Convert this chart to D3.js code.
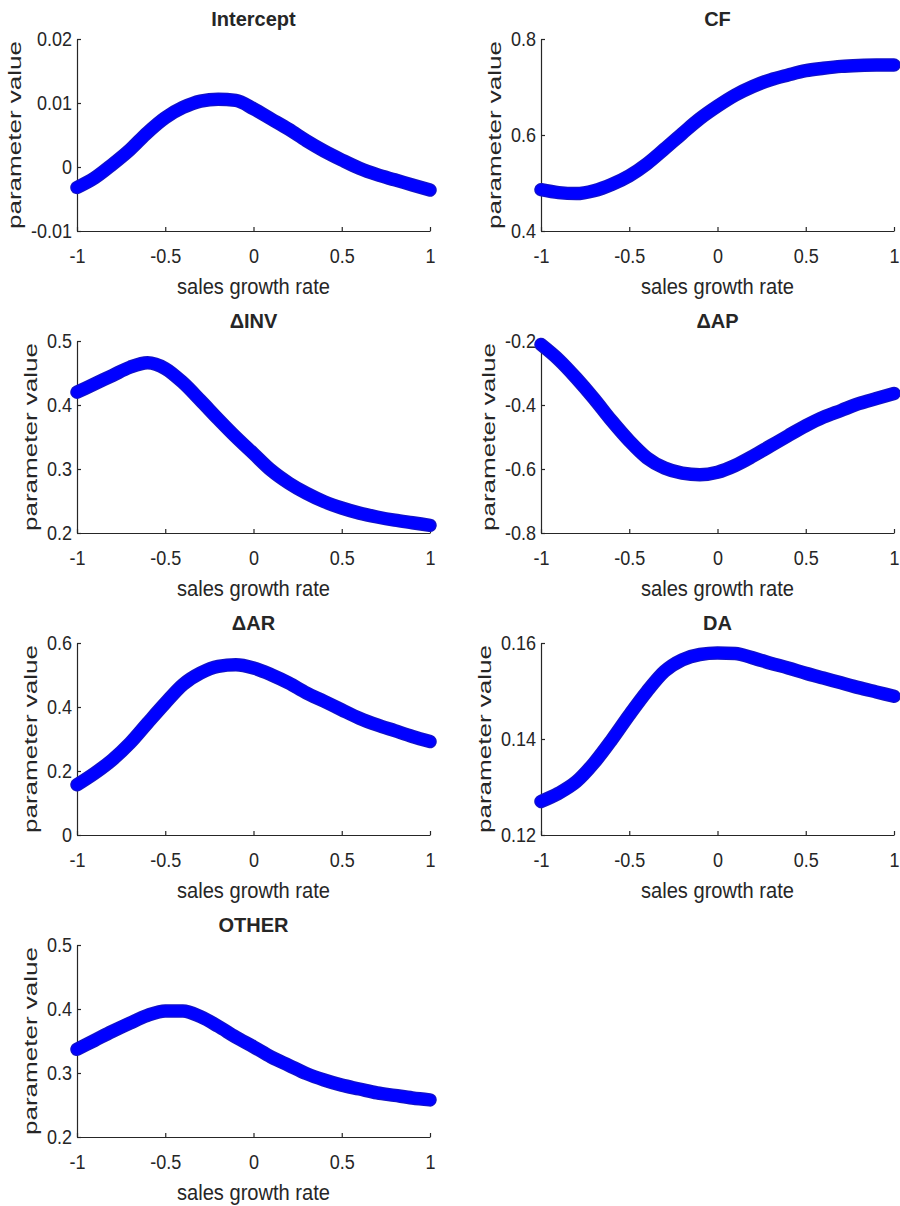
<!DOCTYPE html>
<html lang="en">
<head>
<meta charset="UTF-8">
<script src="https://cdnjs.cloudflare.com/ajax/libs/d3/7.8.5/d3.min.js"></script>
<style>
body{
  margin: 0;
  background-color: #ffffff;
}
text{
  font-family: "Liberation Sans", Arial, sans-serif;
  fill: #262626;
}
</style>
</head>
<body>
<div id="main-container"></div>
<script type="text/javascript">
/* global d3 */

// x positions of the read-off values (sales growth rate)
const growth = [-1, -0.9, -0.8, -0.7, -0.6, -0.5, -0.4, -0.3, -0.2, -0.1, 0,
                0.1, 0.2, 0.3, 0.4, 0.5, 0.6, 0.7, 0.8, 0.9, 1];

const panelTitles = ['Intercept', 'CF', '\u0394INV', '\u0394AP', '\u0394AR', 'DA', 'OTHER'];

const interceptVals = [-0.0032, -0.0017, 0.0004, 0.0027, 0.0054, 0.0077, 0.0093, 0.0103, 0.0106, 0.0104, 0.0091,
                       0.0075, 0.0059, 0.0041, 0.0025, 0.0011, -0.0002, -0.0012, -0.0020, -0.0028, -0.0036];
const cfVals = [0.486, 0.480, 0.478, 0.484, 0.497, 0.515, 0.540, 0.571, 0.603, 0.634, 0.660,
                0.683, 0.701, 0.715, 0.725, 0.734, 0.739, 0.743, 0.745, 0.746, 0.746];
const invVals = [0.420, 0.433, 0.446, 0.459, 0.466, 0.457, 0.435, 0.407, 0.378, 0.350, 0.324,
                 0.298, 0.278, 0.262, 0.249, 0.239, 0.231, 0.225, 0.220, 0.216, 0.212];
const apVals = [-0.211, -0.258, -0.316, -0.380, -0.449, -0.512, -0.565, -0.597, -0.613, -0.618, -0.610,
                -0.589, -0.560, -0.528, -0.496, -0.465, -0.438, -0.417, -0.396, -0.380, -0.364];
const arVals = [0.157, 0.193, 0.235, 0.287, 0.350, 0.412, 0.470, 0.506, 0.527, 0.532, 0.522,
                0.501, 0.475, 0.444, 0.418, 0.391, 0.365, 0.344, 0.326, 0.308, 0.292];
const daVals = [0.1270, 0.1287, 0.1311, 0.1350, 0.1398, 0.1450, 0.1499, 0.1541, 0.1565, 0.1576, 0.1579,
                0.1578, 0.1569, 0.1558, 0.1548, 0.1537, 0.1527, 0.1517, 0.1507, 0.1498, 0.1489];
const otherVals = [0.337, 0.351, 0.365, 0.378, 0.390, 0.397, 0.397, 0.388, 0.373, 0.356, 0.341,
                   0.325, 0.312, 0.299, 0.289, 0.281, 0.275, 0.269, 0.265, 0.261, 0.258];

const xTicks = [-1, -0.5, 0, 0.5, 1];
const yTicksIntercept = [-0.01, 0, 0.01, 0.02];
const yTicksCF = [0.4, 0.6, 0.8];
const yTicksINV = [0.2, 0.3, 0.4, 0.5];
const yTicksAP = [-0.8, -0.6, -0.4, -0.2];
const yTicksAR = [0, 0.2, 0.4, 0.6];
const yTicksDA = [0.12, 0.14, 0.16];
const yTicksOTHER = [0.2, 0.3, 0.4, 0.5];

const allVals = [interceptVals, cfVals, invVals, apVals, arVals, daVals, otherVals];
const allTicks = [yTicksIntercept, yTicksCF, yTicksINV, yTicksAP, yTicksAR, yTicksDA, yTicksOTHER];

const w = 900;
const h = 1206;
const colLeft = [77, 541];
const rowTop = [39, 341, 643, 945];
const plotW = 353;
const plotH = 192;

const svg = d3.select('#main-container').append('svg').attr('width', w).attr('height', h);

const fmt = (d) => String(Math.round(d * 1000) / 1000);

panelTitles.forEach((title, i) => {
  const px = colLeft[i % 2];
  const py = rowTop[Math.floor(i / 2)];
  const ticks = allTicks[i];
  const vals = allVals[i];

  const xScale = d3.scaleLinear().domain([-1, 1]).range([0, plotW]);
  const yScale = d3.scaleLinear().domain([d3.min(ticks), d3.max(ticks)]).range([plotH, 0]);

  const g = svg.append('g').attr('transform', 'translate(' + px + ',' + py + ')');

  const xAxis = d3.axisBottom(xScale).tickValues(xTicks).tickFormat(fmt)
                  .tickSizeInner(-4).tickSizeOuter(0).tickPadding(18);
  const yAxis = d3.axisLeft(yScale).tickValues(ticks).tickFormat(fmt)
                  .tickSizeInner(-4).tickSizeOuter(0).tickPadding(5);

  const gx = g.append('g').attr('transform', 'translate(0,' + plotH + ')').call(xAxis);
  const gy = g.append('g').call(yAxis);
  [gx, gy].forEach((ax) => {
    ax.select('.domain').attr('stroke', '#262626').attr('stroke-width', 1.2);
    ax.selectAll('.tick line').attr('stroke', '#262626').attr('stroke-width', 1.2);
    ax.selectAll('.tick text').attr('fill', '#262626')
      .style('font-family', '"Liberation Sans", Arial, sans-serif').style('font-size', '20px')
      .each(function(){
        // narrower glyphs, like the original rendering
        d3.select(this).attr('textLength', this.getComputedTextLength() * 0.9)
                       .attr('lengthAdjust', 'spacingAndGlyphs');
      });
  });
  gx.selectAll('.tick text').attr('dy', '0.71em');

  // widest y tick label decides where the y label sits
  let maxW = 0;
  gy.selectAll('.tick text').each(function(){ maxW = Math.max(maxW, this.getComputedTextLength()); });

  const line = d3.line()
                 .x((d, k) => xScale(growth[k]))
                 .y((d) => yScale(d))
                 .curve(d3.curveMonotoneX);
  g.append('path').datum(vals)
   .attr('d', line)
   .attr('fill', 'none')
   .attr('stroke', '#1212c8')
   .attr('stroke-width', 13.5)
   .attr('stroke-linecap', 'round')
   .attr('stroke-linejoin', 'round');
  g.append('path').datum(vals)
   .attr('d', line)
   .attr('fill', 'none')
   .attr('stroke', '#0000ff')
   .attr('stroke-width', 11)
   .attr('stroke-linecap', 'round')
   .attr('stroke-linejoin', 'round');

  g.append('text').attr('x', plotW / 2).attr('y', -13)
   .style('text-anchor', 'middle').style('font-weight', 'bold').style('font-size', '20px')
   .attr('fill', '#000').text(title);

  g.append('text').attr('x', plotW / 2).attr('y', plotH + 63)
   .style('text-anchor', 'middle').style('font-size', '22px')
   .attr('textLength', 153).attr('lengthAdjust', 'spacingAndGlyphs')
   .text('sales growth rate');

  const labX = -5 - maxW - 10;
  g.append('text').attr('transform', 'translate(' + labX + ',' + (plotH / 2) + ') rotate(-90)')
   .style('text-anchor', 'middle').style('font-size', '19px')
   .attr('textLength', 188).attr('lengthAdjust', 'spacingAndGlyphs')
   .text('parameter value');
});
</script>
</body>
</html>
